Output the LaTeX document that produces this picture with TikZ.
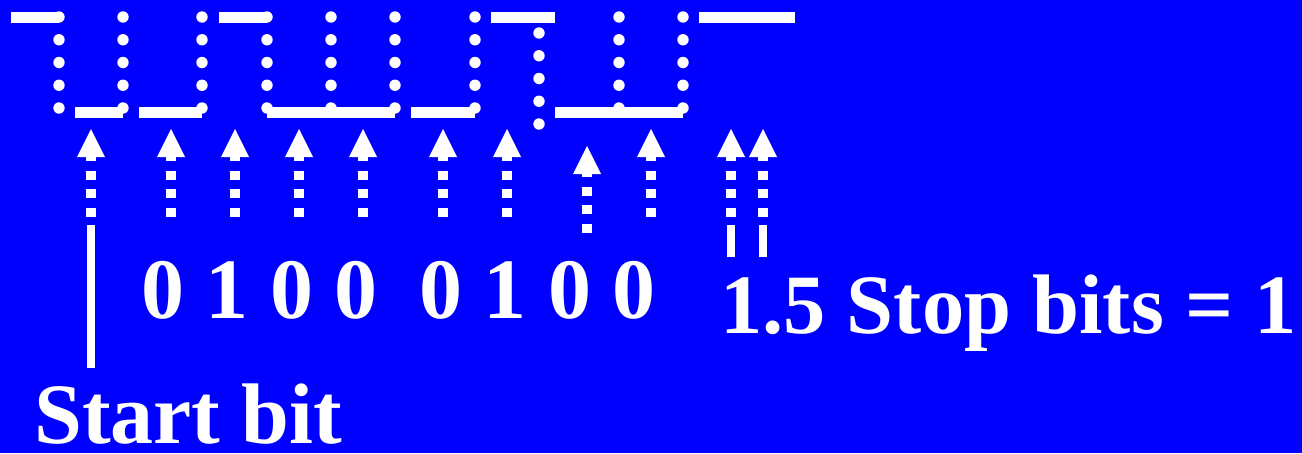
\documentclass[tikz,border=0pt]{standalone}
\usepackage{fontspec}
\setmainfont{Liberation Serif}
\usepackage{tikz}
\usetikzlibrary{arrows.meta}
\definecolor{screen}{RGB}{0,0,255}

\begin{document}
\begin{tikzpicture}[x=1pt, y=-1pt,
  every node/.style={font=\fontsize{86}{90}\selectfont\bfseries, text=white, inner sep=0pt, anchor=base west},
  levelbar/.style={white, line width=11pt},
  dotmark/.style={white},
  sampler/.style={white, line width=9.5pt, dash pattern=on 9.3pt off 9.3pt, -{Triangle[length=28pt, width=28pt, line width=0pt]}},
  marker/.style={white, line width=8.5pt}]
\useasboundingbox (0,0) rectangle (1302,453);
\fill[screen] (0,0) rectangle (1302,453);
\draw[levelbar] (11,17) -- (59,17) (219,17) -- (267,17) (491,17) -- (555,17) (699,17) -- (795,17);
\draw[levelbar] (75,112) -- (123,112) (139,112) -- (202,112) (267,112) -- (395,112) (411,112) -- (475,112) (555,112) -- (683,112);
\foreach \x in {59,123,202,267,331,395,475,619,683}
  \foreach \k in {0,...,4}
    \fill[dotmark] (\x,17+22.75*\k) circle (5.7pt);
\foreach \k in {0,...,4}
  \fill[dotmark] (539,33+22.75*\k) circle (5.7pt);
\foreach \x [count=\i] in {91,171,235,299,363,443,507,651,731,763}{
  \coordinate (foot\i) at (\x,217);
  \coordinate (tip\i) at (\x,129);
  \draw[sampler] (foot\i) -- (tip\i);
}
\coordinate (footlate) at (587,233);
\coordinate (tiplate) at (587,146);
\draw[sampler] (footlate) -- (tiplate);
\coordinate (starttop) at (91,225);
\coordinate (startbot) at (91,368);
\draw[marker] (starttop) -- (startbot);
\foreach \x [count=\i] in {731,763}{
  \coordinate (stoptop\i) at (\x,225);
  \coordinate (stopbot\i) at (\x,257);
  \draw[marker] (stoptop\i) -- (stopbot\i);
}
\node (bitsfirst) at (141,318) {0 1 0 0};
\node (bitssecond) at (419,318) {0 1 0 0};
\node[font=\fontsize{84.5}{90}\selectfont\bfseries] (stopnote) at (720,333) {1.5 Stop bits = 1};
\node[text depth=0pt] (startnote) at (34,443) {Start bit};
\end{tikzpicture}
\end{document}
